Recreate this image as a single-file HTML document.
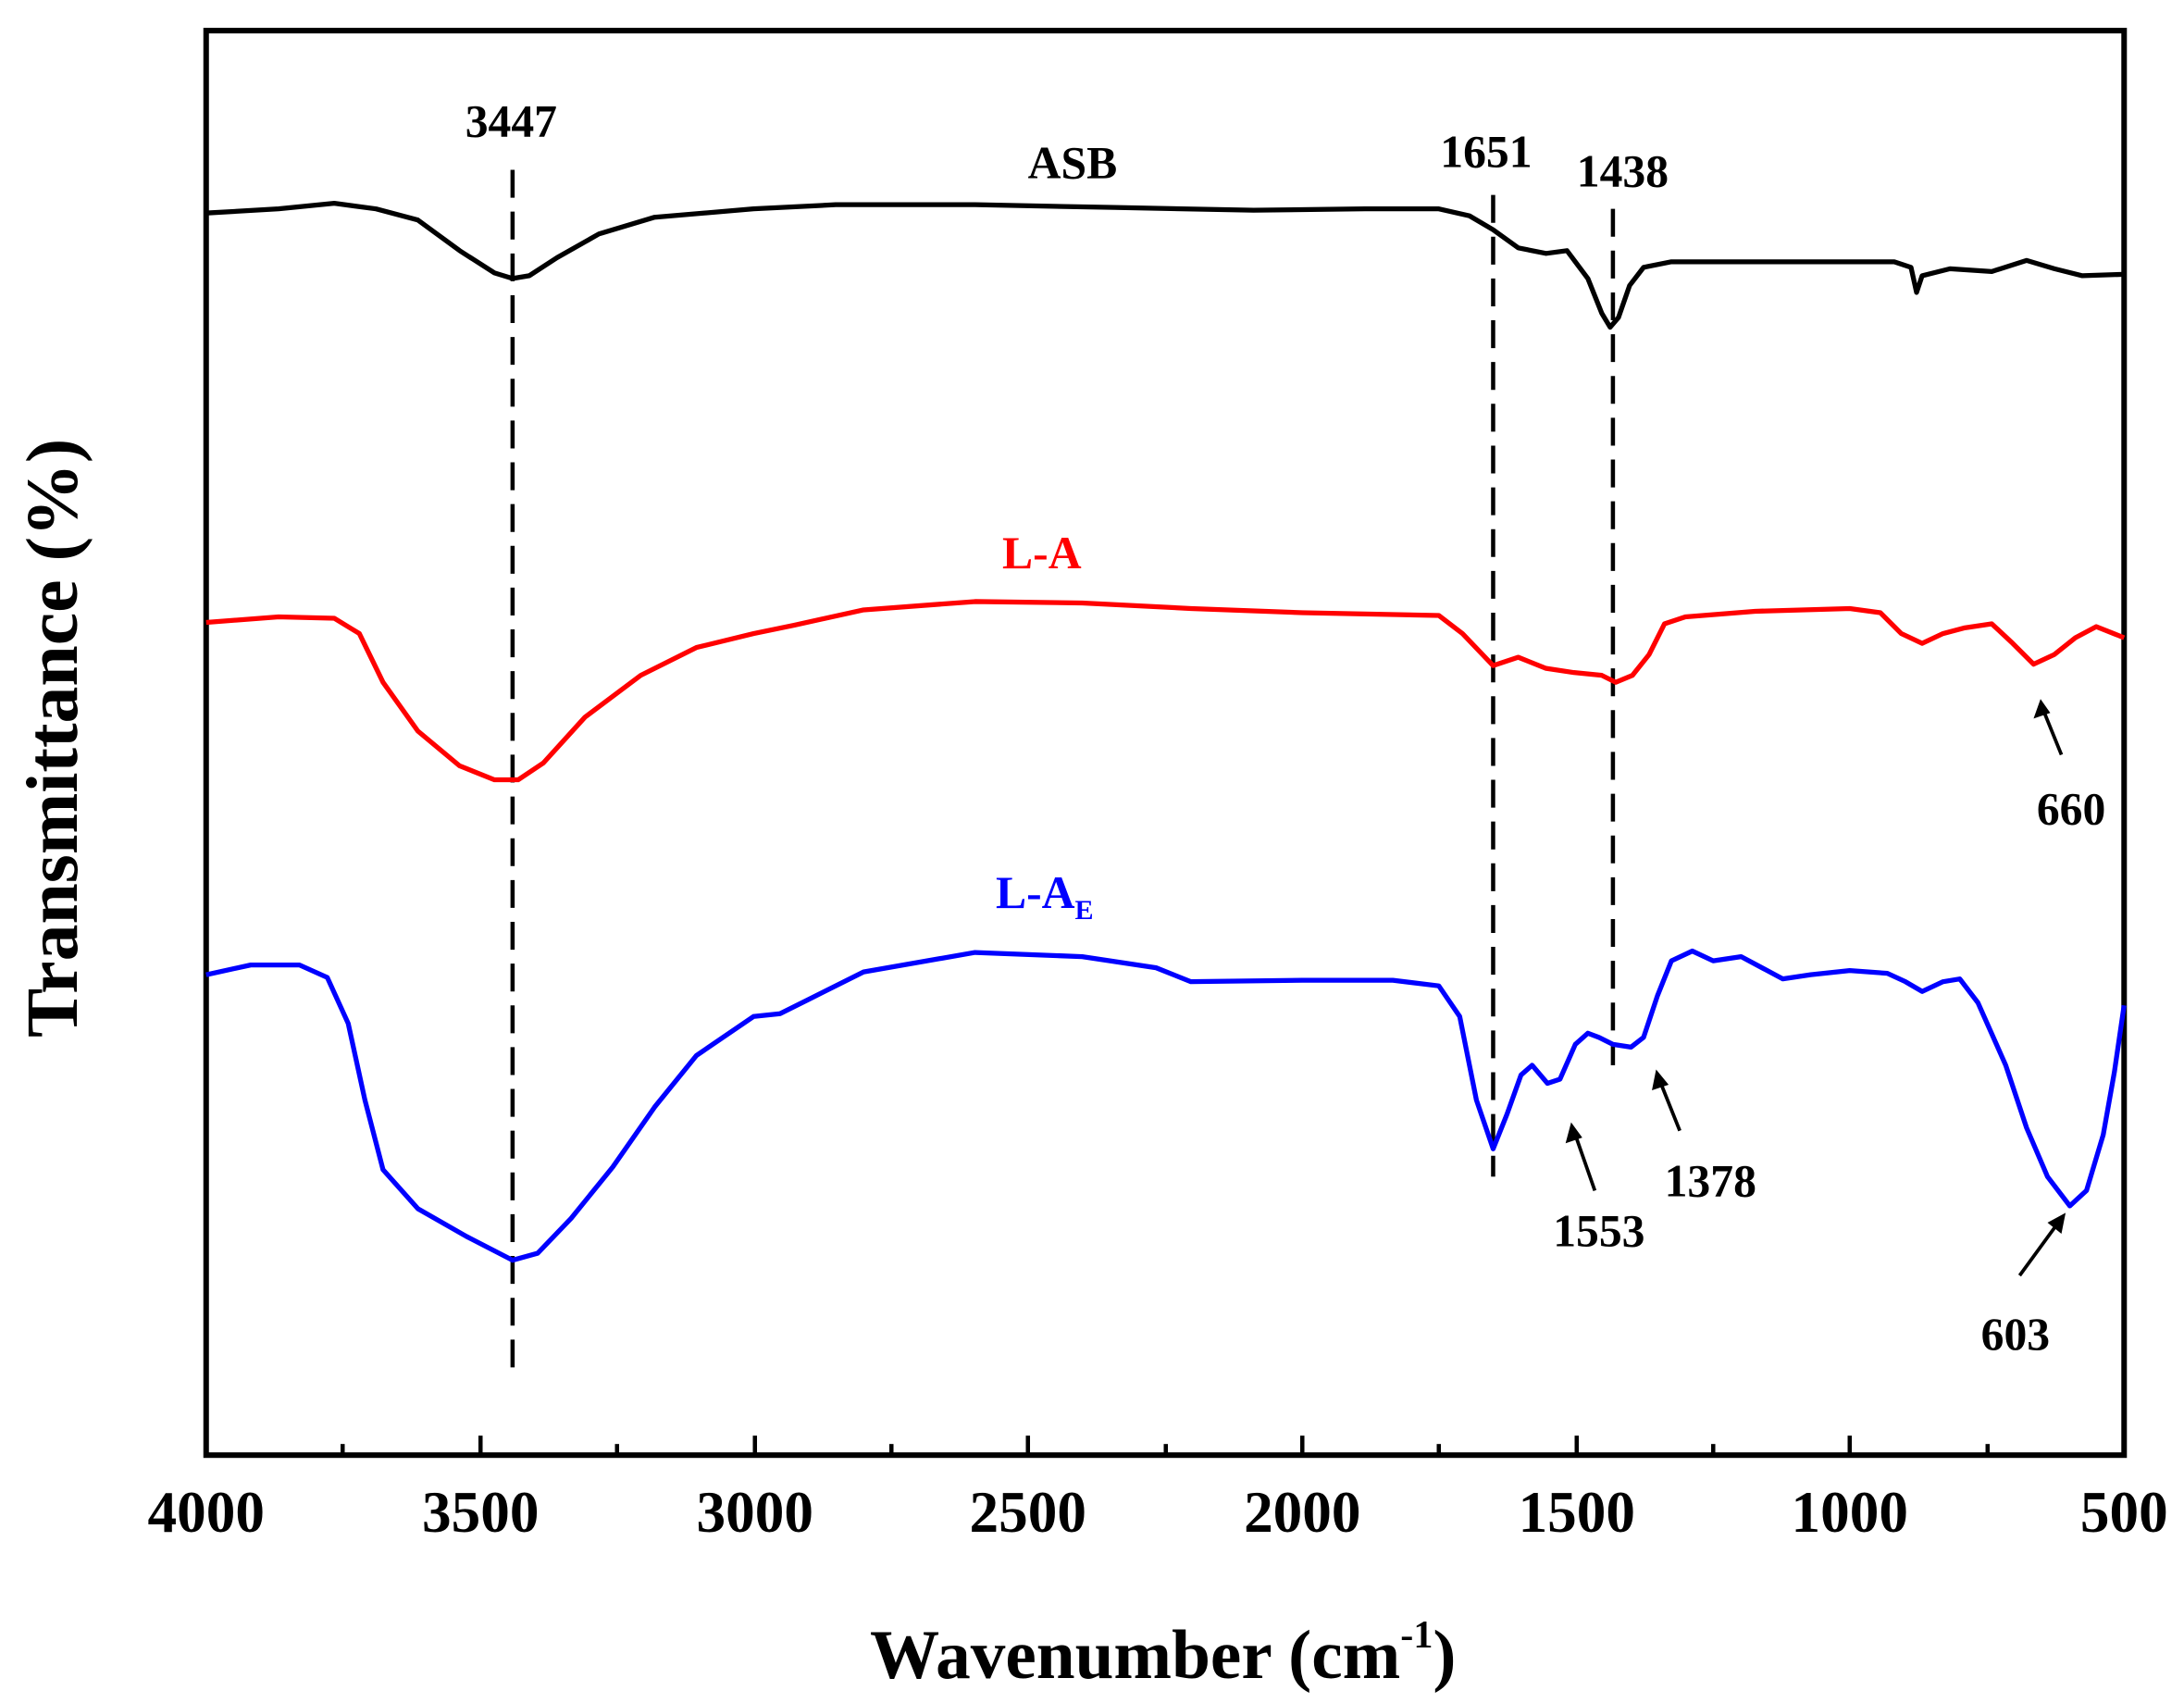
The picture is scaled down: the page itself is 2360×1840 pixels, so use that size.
<!DOCTYPE html>
<html><head><style>html,body{margin:0;padding:0;background:#fff}svg{display:block}</style></head><body>
<svg width="2360" height="1840" viewBox="0 0 1568 1223" preserveAspectRatio="none" xmlns="http://www.w3.org/2000/svg" font-family="'Liberation Serif',serif" font-weight="bold">
<rect x="0" y="0" width="1568" height="1223" fill="#fff"/>
<rect x="148" y="22" width="1377" height="1023" fill="none" stroke="#000" stroke-width="4"/>
<g stroke="#000" stroke-width="3">
<line x1="148" y1="1045" x2="148" y2="1031"/><line x1="246" y1="1045" x2="246" y2="1037"/>
<line x1="345" y1="1045" x2="345" y2="1031"/><line x1="443" y1="1045" x2="443" y2="1037"/>
<line x1="542" y1="1045" x2="542" y2="1031"/><line x1="640" y1="1045" x2="640" y2="1037"/>
<line x1="738" y1="1045" x2="738" y2="1031"/><line x1="837" y1="1045" x2="837" y2="1037"/>
<line x1="935" y1="1045" x2="935" y2="1031"/><line x1="1033" y1="1045" x2="1033" y2="1037"/>
<line x1="1132" y1="1045" x2="1132" y2="1031"/><line x1="1230" y1="1045" x2="1230" y2="1037"/>
<line x1="1328" y1="1045" x2="1328" y2="1031"/><line x1="1427" y1="1045" x2="1427" y2="1037"/>
</g>
<g font-size="42" text-anchor="middle">
<text x="148" y="1100">4000</text><text x="345" y="1100">3500</text><text x="542" y="1100">3000</text>
<text x="738" y="1100">2500</text><text x="935" y="1100">2000</text><text x="1132" y="1100">1500</text>
<text x="1328" y="1100">1000</text><text x="1525" y="1100">500</text>
</g>
<text x="835" y="1205" font-size="50" text-anchor="middle">Wavenumber (cm<tspan font-size="28" dy="-22">-1</tspan><tspan dy="22">)</tspan></text>
<text transform="translate(55,530) rotate(-90)" font-size="53" text-anchor="middle">Transmittance (%)</text>
<g stroke="#000" stroke-width="3" stroke-dasharray="20,10" fill="none">
<line x1="368" y1="122" x2="368" y2="985"/>
<line x1="1072" y1="140" x2="1072" y2="845"/>
<line x1="1158" y1="150" x2="1158" y2="765"/>
</g>
<path fill="none" stroke="#000" stroke-width="3.5" stroke-linejoin="round" d="M148,153 L200,150 L240,146 L270,150 L300,158 L330,180 L355,196 L368,200 L380,198 L400,185 L430,168 L470,156 L541,150 L600,147 L700,147 L800,149 L900,151 L980,150 L1033,150 L1055,155 L1072,165 L1090,178 L1110,182 L1125,180 L1140,200 L1150,225 L1156,235 L1162,228 L1170,205 L1180,192 L1200,188 L1300,188 L1360,188 L1372,192 L1376,210 L1380,198 L1400,193 L1430,195 L1455,187 L1475,193 L1495,198 L1525,197"/>
<path fill="none" stroke="#f00" stroke-width="3.5" stroke-linejoin="round" d="M148,447 L200,443 L240,444 L258,455 L275,490 L300,525 L330,550 L355,560 L372,560 L390,548 L420,515 L460,485 L500,465 L541,455 L570,449 L620,438 L700,432 L777,433 L855,437 L935,440 L1033,442 L1050,455 L1072,478 L1090,472 L1110,480 L1130,483 L1150,485 L1160,490 L1172,485 L1184,470 L1195,448 L1210,443 L1260,439 L1328,437 L1350,440 L1365,455 L1380,462 L1395,455 L1410,451 L1430,448 L1445,462 L1460,477 L1475,470 L1490,458 L1505,450 L1525,458"/>
<path fill="none" stroke="#00f" stroke-width="3.5" stroke-linejoin="round" d="M148,700 L180,693 L215,693 L235,702 L250,735 L262,790 L275,840 L300,868 L335,888 L368,905 L386,900 L410,875 L440,838 L470,795 L500,758 L541,730 L560,728 L580,718 L620,698 L700,684 L777,687 L830,695 L855,705 L935,704 L1000,704 L1033,708 L1048,730 L1060,790 L1072,825 L1082,800 L1092,772 L1100,765 L1111,778 L1120,775 L1131,750 L1140,742 L1148,745 L1158,750 L1171,752 L1180,745 L1190,715 L1200,690 L1215,683 L1230,690 L1250,687 L1265,695 L1280,703 L1300,700 L1328,697 L1355,699 L1368,705 L1380,712 L1395,705 L1407,703 L1420,720 L1440,765 L1455,810 L1470,845 L1486,866 L1498,855 L1510,815 L1518,770 L1525,722"/>
<g font-size="33" text-anchor="middle">
<text x="367" y="98">3447</text>
<text x="770" y="128">ASB</text>
<text x="1067" y="120">1651</text>
<text x="1165" y="134">1438</text>
<text x="748" y="408" fill="#f00">L-A</text>
<text x="750" y="652" fill="#00f">L-A<tspan font-size="20" dy="8">E</tspan></text>
<text x="1487" y="592">660</text>
<text x="1148" y="895">1553</text>
<text x="1228" y="859">1378</text>
<text x="1447" y="969">603</text>
</g>
<g stroke="#000" stroke-width="2.5" fill="#000">
<line x1="1480" y1="542" x2="1467" y2="510"/><polygon points="1465,502 1460,516 1472,512" stroke="none"/>
<line x1="1145" y1="855" x2="1131" y2="815"/><polygon points="1128,806 1124,821 1136,817" stroke="none"/>
<line x1="1206" y1="812" x2="1192" y2="777"/><polygon points="1189,768 1186,783 1198,779" stroke="none"/>
<line x1="1450" y1="916" x2="1477" y2="879"/><polygon points="1483,871 1470,878 1480,886" stroke="none"/>
</g>
</svg>
</body></html>
